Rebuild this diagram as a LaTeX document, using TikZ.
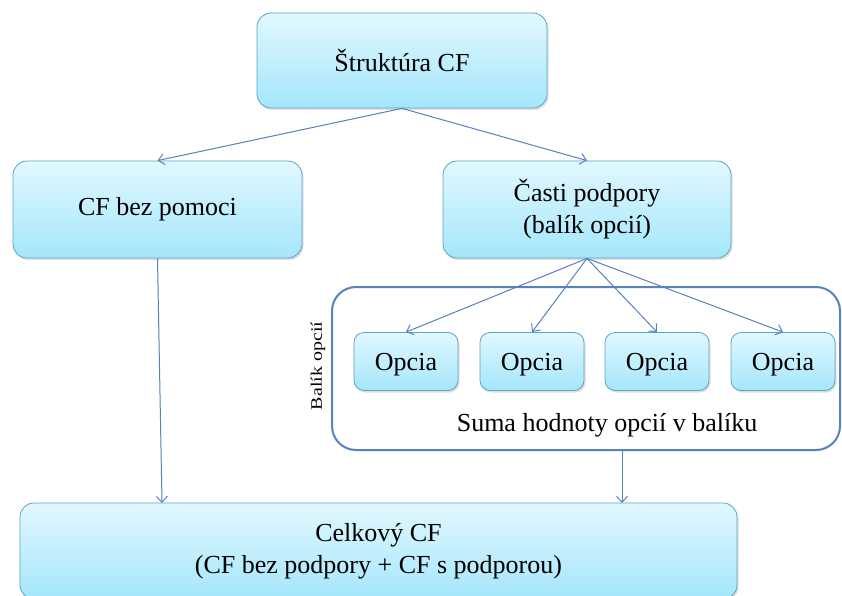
\documentclass[tikz,border=0pt]{standalone}
\usepackage{fontspec}
\setmainfont{Liberation Serif}
\usepackage{tikz}
\usetikzlibrary{positioning}
\usetikzlibrary{arrows.meta,shadows}

\definecolor{okraj}{RGB}{90,165,195}
\definecolor{horna}{RGB}{226,248,255}
\definecolor{dolna}{RGB}{164,230,251}
\definecolor{sipkova}{RGB}{88,130,190}

\tikzset{blok/.style={draw=okraj, line width=0.8pt, rounded corners=14pt,
    top color=horna, bottom color=dolna, align=center,
    drop shadow={shadow xshift=1.5pt, shadow yshift=-2pt, opacity=0.25},
    font=\fontsize{26}{32}\selectfont}}
\tikzset{opcia/.style={blok, rounded corners=10pt, minimum width=104pt, minimum height=58pt, text depth=0pt}}
\tikzset{sipka/.style={draw=sipkova, line width=1pt, -{Straight Barb[length=6pt,width=11pt]}}}

\begin{document}
\begin{tikzpicture}[x=1pt,y=-1pt]
\useasboundingbox (0,0) rectangle (842,596);
\clip (0,0) rectangle (842,596);
\fill[white] (0,0) rectangle (842,596);

\node (struktura) [blok, minimum width=290pt, minimum height=95pt] at (402,60.5) {Štruktúra CF};
\node (bez) [blok, minimum width=289pt, minimum height=97pt] at (157.5,209.5) {CF bez pomoci};
\node (casti) [blok, minimum width=288pt, minimum height=97pt] at (587,209.5) {Časti podpory\\(balík opcií)};

% skupina opcii
\node (balik) [draw=sipkova, line width=2pt, rounded corners=24pt, minimum width=508pt, minimum height=163pt] at (586,368.5) {};
\node (o1) [opcia] at (406,361.5) {Opcia};
\node (o2) [opcia] at (532,361.5) {Opcia};
\node (o3) [opcia] at (657,361.5) {Opcia};
\node (o4) [opcia] at (783,361.5) {Opcia};
\node (suma) [font=\fontsize{26}{32}\selectfont] at (607,425) {Suma hodnoty opcií v balíku};
\node (nazov) [rotate=90, font=\fontsize{16}{18}\selectfont, xscale=1.25] at (318,366) {Balík opcií};

\node (celkovy) [blok, minimum width=717pt, minimum height=96pt] at (378.5,551) {Celkový CF\\(CF bez podpory + CF s podporou)};

\coordinate (vstup1) at (162,503);
\coordinate (vstup2) at (622,503);

\draw[sipka] (struktura.south) -- (bez.north);
\draw[sipka] (struktura.south) -- (casti.north);
\foreach \o in {o1,o2,o3,o4} {
\draw[sipka] (casti.south) -- (\o.north);
}
\draw[sipka] (bez.south) -- (vstup1);
\draw[sipka] (vstup2 |- balik.south) -- (vstup2);
\end{tikzpicture}
\end{document}
